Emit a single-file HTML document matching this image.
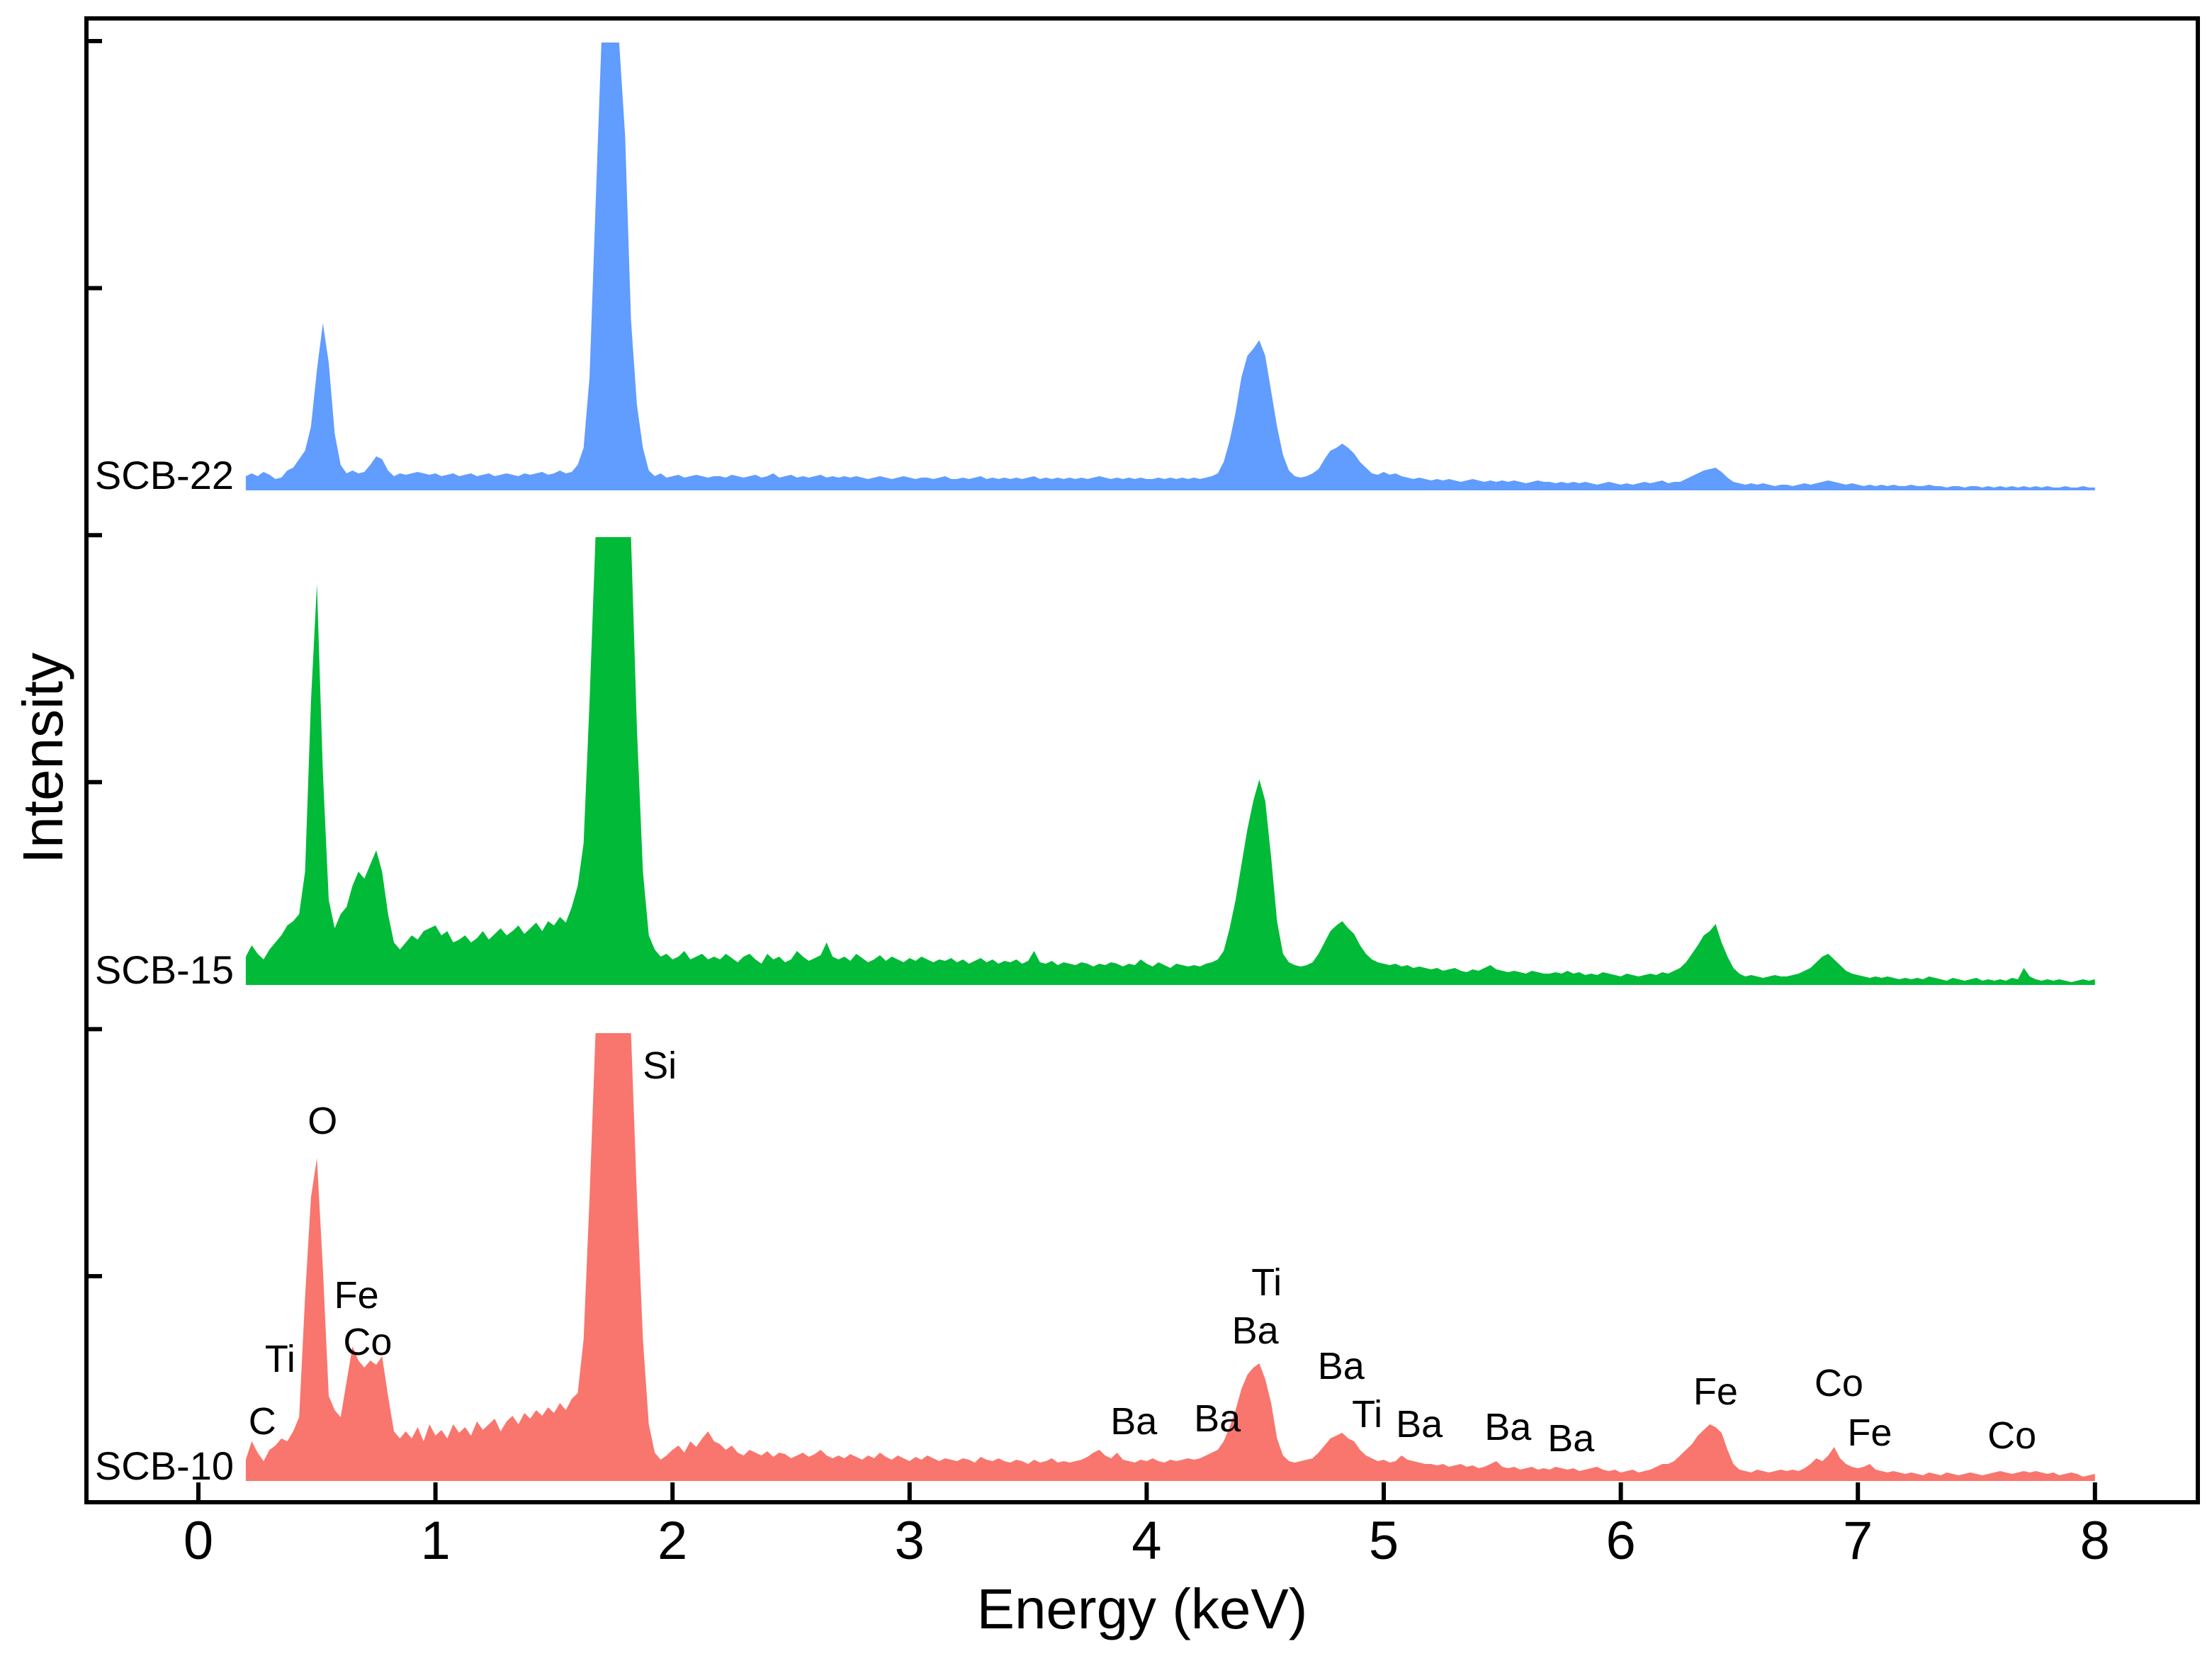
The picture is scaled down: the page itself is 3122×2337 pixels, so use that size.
<!DOCTYPE html>
<html><head><meta charset="utf-8"><style>
html,body{margin:0;padding:0;background:#fff}
svg{display:block}
text{font-family:"Liberation Sans",Arial,sans-serif;fill:#000}
</style></head><body>
<svg id="chart" width="3122" height="2337" viewBox="0 0 3122 2337" xmlns="http://www.w3.org/2000/svg">
<g id="series"></g>
<g id="annots"></g>
<g id="axes"></g>
</svg>
<script>
const E0 = 0.2, STEP = 0.025;
const xTicks = [0,1,2,3,4,5,6,7,8];
const yTickVals = [0,1,2,3,4,5];
const scb22 = [
10,12,10,13,11,8,9,14,16,22,28,45,85,118,90,40,18,12,14,12,
13,18,24,22,14,10,12,11,12,13,12,11,12,10,11,12,10,11,12,10,
11,12,10,11,12,11,10,12,11,12,13,11,12,14,12,13,18,30,80,200,
316,316,316,316,250,120,60,30,14,10,12,9,10,11,9,10,11,10,9,10,
10,9,11,10,9,10,11,9,10,12,9,10,11,9,10,9,10,11,9,10,
9,10,9,10,9,8,9,10,9,8,9,10,9,8,9,9,8,9,10,8,
8,9,8,9,10,8,9,8,9,8,9,8,9,10,8,9,8,9,8,9,
8,9,8,9,10,9,8,9,8,9,8,9,8,8,9,8,9,8,9,8,
9,8,9,10,12,20,35,55,80,95,100,106,95,70,45,25,14,10,9,10,
12,15,22,28,30,33,30,26,20,16,12,11,13,11,12,10,9,8,9,8,
7,8,7,8,7,6,7,8,7,6,7,6,7,6,7,6,5,6,7,6,
6,5,6,5,6,5,6,5,4,5,6,5,4,5,4,5,6,5,6,7,
5,6,6,8,10,12,14,15,16,13,9,6,5,4,5,4,5,4,3,4,
4,3,4,5,4,5,6,7,6,5,4,5,4,3,4,3,4,3,4,3,
3,4,3,3,4,3,3,2,3,3,2,3,3,2,3,2,3,2,3,2,
3,2,3,2,3,2,2,3,2,2,3,2,2];
const scb15 = [
20,28,22,18,25,30,35,42,45,50,80,200,283,150,60,40,50,55,70,80,
75,85,95,80,50,30,25,30,35,32,38,40,42,35,38,30,32,35,30,33,
38,32,36,40,35,38,42,36,40,44,38,45,42,48,44,55,70,100,200,316,
316,316,316,316,316,316,180,80,35,25,20,22,18,20,24,18,20,22,18,20,
18,22,19,16,20,22,18,15,22,18,20,16,18,24,20,17,19,21,30,20,
18,20,17,22,19,16,18,21,17,20,18,16,19,17,20,18,16,18,17,19,
16,18,15,17,19,16,18,15,17,16,18,15,17,24,16,15,17,14,16,15,
14,16,15,13,15,14,16,15,13,15,14,18,15,13,16,14,12,15,14,13,
14,13,15,16,18,24,40,60,85,110,130,145,130,90,45,22,16,14,13,14,
16,22,30,38,42,45,40,36,28,22,18,16,15,14,15,13,14,12,13,12,
11,12,10,11,12,10,9,11,10,12,14,11,10,9,10,9,8,10,9,8,
8,9,8,10,8,9,7,8,7,9,8,7,6,8,7,6,7,8,7,9,
8,10,12,16,22,28,35,38,43,30,20,12,8,6,7,6,5,6,7,6,
6,7,8,10,12,16,20,22,18,14,10,8,7,6,5,6,5,6,5,4,
5,4,5,4,6,5,4,3,5,4,3,4,5,3,4,3,4,3,5,4,
12,6,4,3,4,3,4,3,2,3,4,3,4];
const scb10 = [
15,28,20,14,22,25,30,28,35,45,130,200,228,150,60,50,45,70,95,85,
80,85,82,88,60,35,30,35,30,38,28,40,32,36,30,40,34,38,32,42,
36,40,44,35,42,46,40,48,44,50,46,52,48,55,50,58,62,100,200,316,
316,316,316,316,316,316,200,100,40,20,15,18,22,25,20,28,24,30,35,28,
26,22,25,20,18,22,20,18,21,17,20,19,16,18,20,17,19,22,18,16,
18,16,19,17,15,18,16,20,17,15,18,16,14,17,15,18,16,14,16,15,
14,16,15,13,17,15,14,16,14,13,15,14,12,15,13,14,16,13,14,13,
14,15,17,20,22,18,16,20,15,14,13,15,14,16,14,13,15,14,15,16,
15,16,18,20,22,28,38,50,65,75,80,83,72,55,30,18,14,13,14,15,
16,20,25,30,32,34,30,28,22,18,16,14,15,13,14,18,15,14,13,12,
12,11,12,10,11,12,10,11,9,10,12,14,10,9,10,8,9,10,8,9,
8,10,9,8,9,7,8,9,10,8,7,8,6,7,8,6,7,8,10,12,
12,14,18,22,26,32,36,40,38,34,22,12,8,7,6,8,7,6,7,8,
7,8,7,9,12,16,14,18,24,16,12,10,9,10,12,8,7,6,7,6,
5,6,5,4,6,5,4,6,5,4,5,6,5,4,5,6,7,6,5,6,
7,6,7,6,5,6,4,5,6,5,3,4,5];
const seriesNames = ["SCB-22","SCB-15","SCB-10"];
const annLabels = ["C","Ti","O","Fe","Co","Si","Ba","Ba","Ti","Ba","Ba","Ti","Ba","Ba","Ba","Fe","Co","Fe","Co"];
const annE = [0.27,0.345,0.524,0.667,0.714,1.946,3.946,4.298,4.506,4.458,4.82,4.93,5.15,5.524,5.79,6.4,6.92,7.05,7.65];
const annV = [39,83,251,128,95,290,39,41,137,103,78,44,37,35,27,60,66,31,29];

const NS='http://www.w3.org/2000/svg';
const X0=280, XS=334.6, CLIP=316, VS=2;
const bases=[692,1390,2090];
const colors=['#619CFF','#00BA38','#F8766D'];
const xs=e=>X0+e*XS;
const ys=(v,i)=>bases[i]-Math.min(v,CLIP)*VS;
function mk(tag,attrs,parent){const el=document.createElementNS(NS,tag);for(const k in attrs)el.setAttribute(k,attrs[k]);parent.appendChild(el);return el;}
const gS=document.getElementById('series'),gA=document.getElementById('annots'),gX=document.getElementById('axes');
[scb22,scb15,scb10].forEach((arr,i)=>{
  let d='M'+xs(E0)+','+bases[i];
  arr.forEach((v,j)=>{d+=' L'+xs(E0+j*STEP).toFixed(1)+','+ys(v,i).toFixed(1);});
  d+=' L'+xs(E0+(arr.length-1)*STEP).toFixed(1)+','+bases[i]+' Z';
  const p=mk('path',{d:d,fill:colors[i]},gS);
  
  
  const t=mk('text',{x:330,y:bases[i]-2,'font-size':56,'text-anchor':'end'},gS);
  t.textContent=seriesNames[i];
  
  
});
annLabels.forEach((s,k)=>{
  const t=mk('text',{x:xs(annE[k]).toFixed(1),y:(ys(annV[k],2)+12).toFixed(1),'font-size':54,'text-anchor':'middle'},gA);
  t.textContent=s;
  
  
});
const fr=mk('rect',{x:122,y:26,width:2980,height:2094,fill:'none',stroke:'#000','stroke-width':6},gX);


xTicks.forEach(v=>{
  const l=mk('line',{x1:xs(v),x2:xs(v),y1:2120,y2:2092,stroke:'#000','stroke-width':6},gX);
  
  
  const t=mk('text',{x:xs(v),y:2200,'font-size':76,'text-anchor':'middle'},gX);
  t.textContent=String(v);
  
  
});
yTickVals.forEach(v=>{
  const y=58+v*348.6;
  const l=mk('line',{x1:122,x2:144,y1:y,y2:y,stroke:'#000','stroke-width':6},gX);
  
  
});
const xt=mk('text',{x:1612,y:2298,'font-size':80,'text-anchor':'middle'},gX);
xt.textContent='Energy (keV)';


const yt=mk('text',{x:0,y:0,'font-size':80,'text-anchor':'middle',transform:'translate(88,1070) rotate(-90)'},gX);
yt.textContent='Intensity';


</script>
</body></html>
